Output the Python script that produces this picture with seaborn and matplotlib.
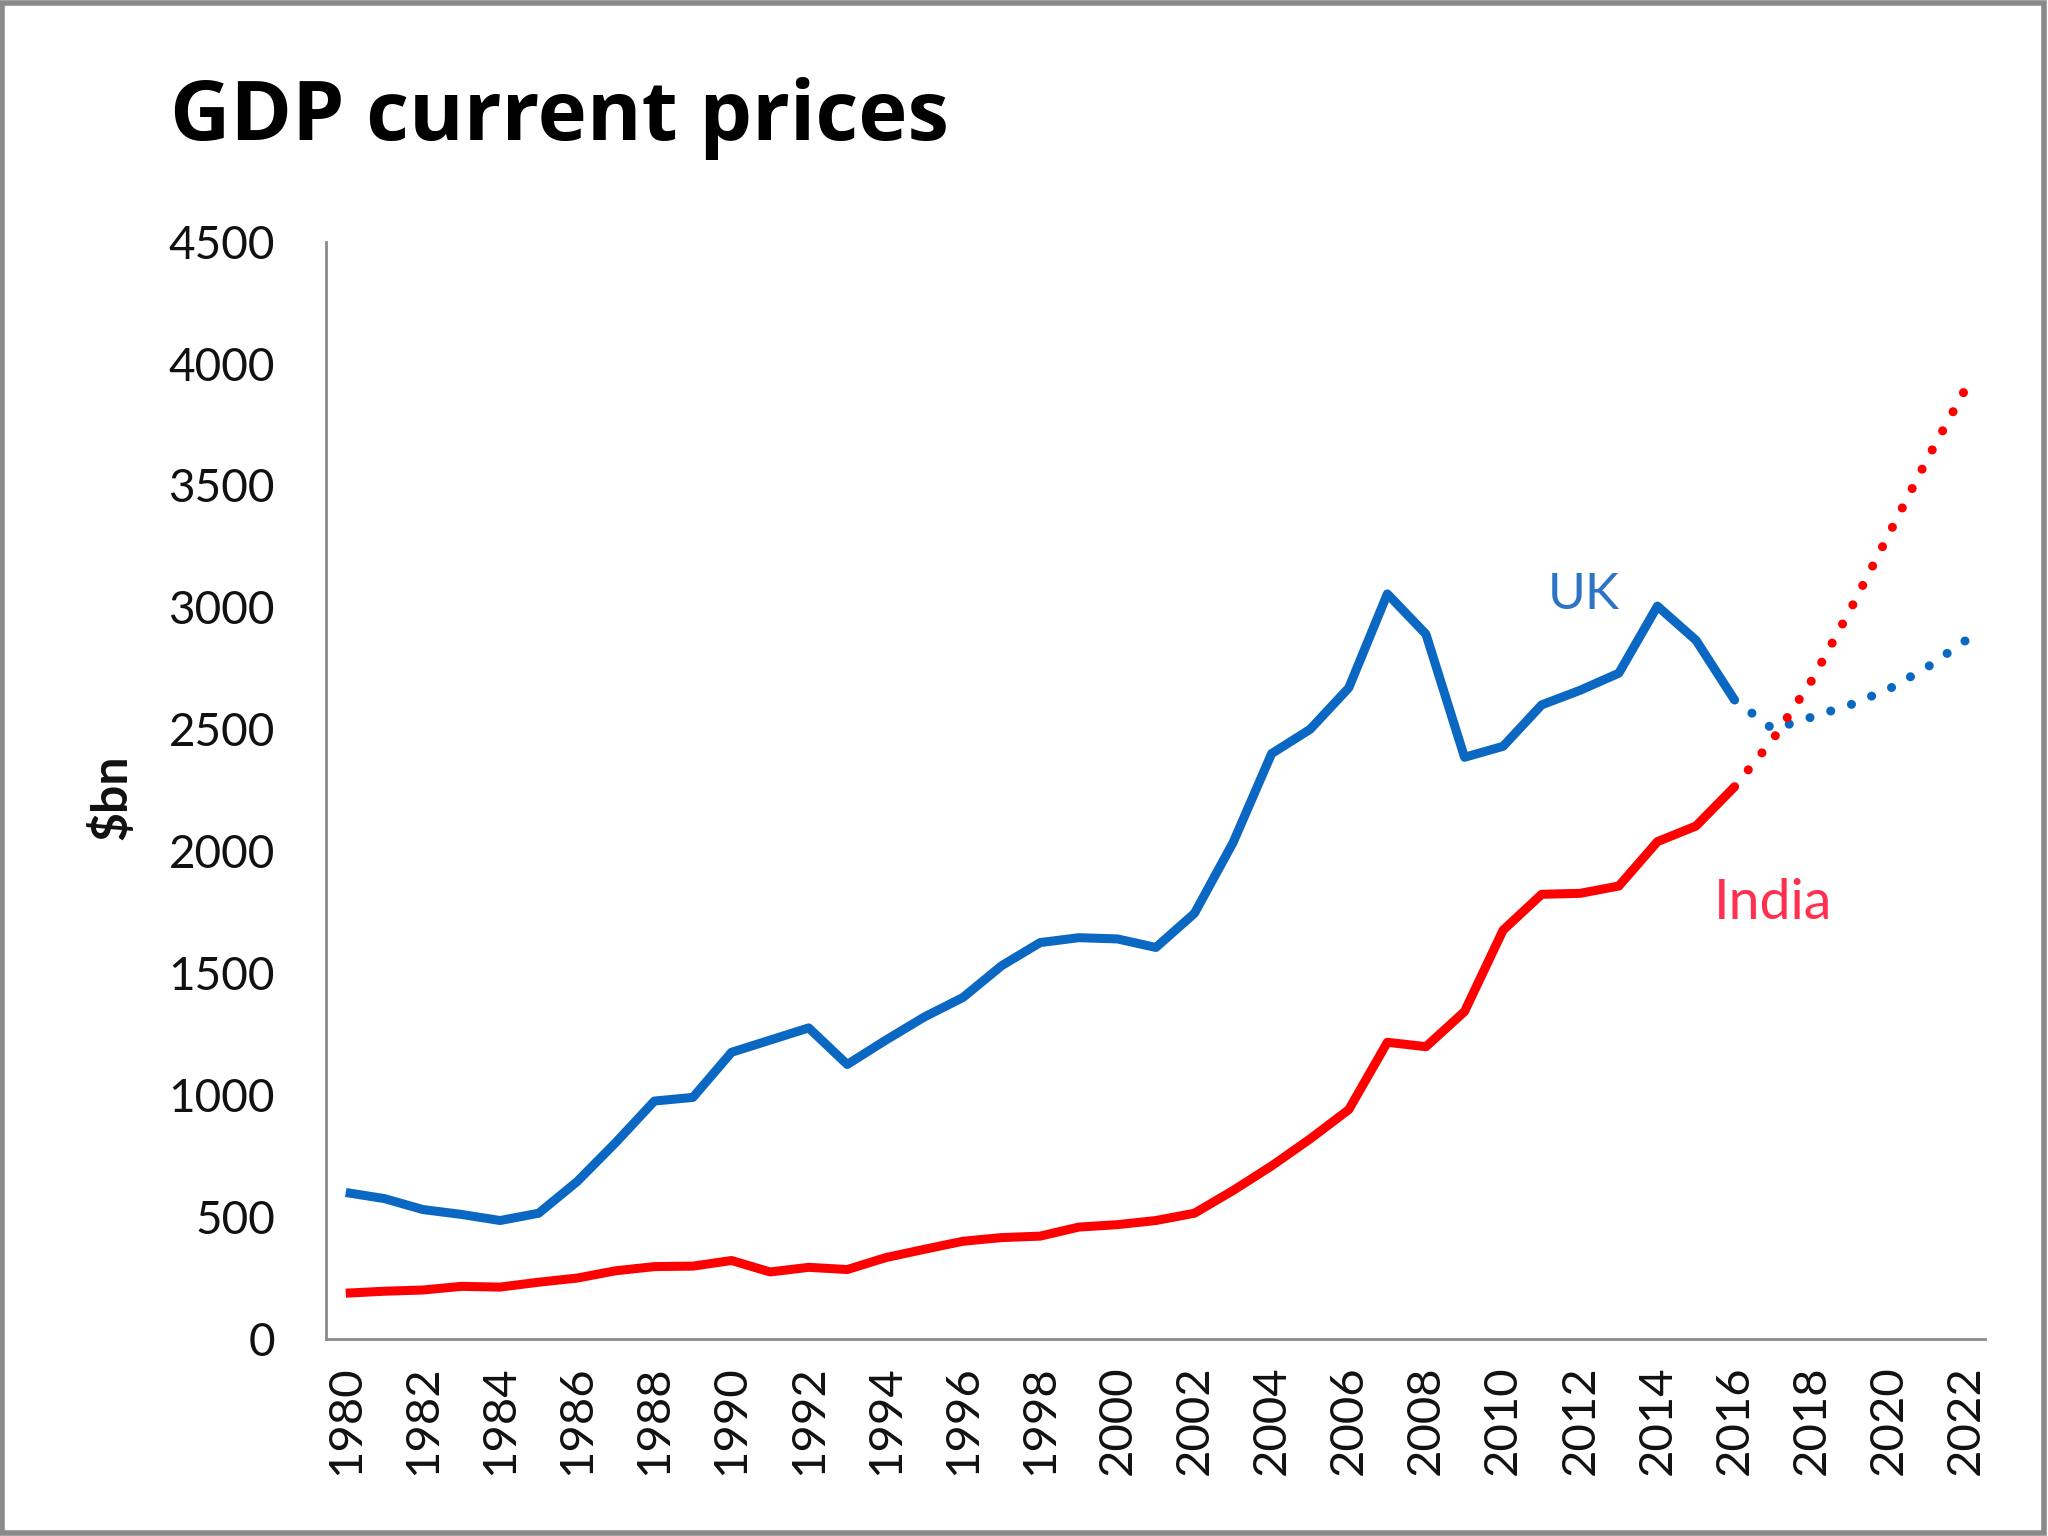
import numpy as np
import pandas as pd
import matplotlib
matplotlib.use("Agg")
import matplotlib.pyplot as plt
import seaborn as sns
from matplotlib.patches import Rectangle

# GDP at current prices, $bn
years = list(range(1980, 2017))
uk_gdp = [600, 575, 530, 510, 485, 515, 645, 805, 975, 990, 1175, 1225, 1275, 1125,
          1225, 1320, 1400, 1530, 1625, 1645, 1640, 1605, 1745, 2035, 2400, 2500,
          2670, 3055, 2890, 2385, 2430, 2600, 2660, 2730, 3005, 2865, 2620]
india_gdp = [187, 195, 200, 215, 212, 232, 249, 279, 296, 298, 321, 274, 293, 284,
             333, 367, 400, 415, 421, 458, 468, 485, 515, 608, 709, 820, 940, 1216,
             1198, 1342, 1676, 1823, 1827, 1857, 2039, 2103, 2264]

# forecast part, joined on from 2016
fc_years = list(range(2016, 2023))
uk_fc = [2620, 2500, 2550, 2600, 2665, 2755, 2865]
india_fc = [2264, 2460, 2700, 2990, 3300, 3610, 3900]

tick_years = list(range(1980, 2023, 2))
y_ticks = list(range(0, 4501, 500))

uk_col = "#0A67C2"
india_col = "#FF0000"

sns.set_style("white")
plt.rcParams['font.family'] = ['Lato', 'DejaVu Sans']

fig = plt.figure(figsize=(20.48, 15.36), dpi=100)
ax = fig.add_axes([0.1594, 0.1284, 0.81, 0.7143])

sns.lineplot(x=years, y=uk_gdp, ax=ax, color=uk_col, lw=6.5, solid_capstyle="butt")
sns.lineplot(x=years, y=india_gdp, ax=ax, color=india_col, lw=6.5, solid_capstyle="butt")
sns.lineplot(x=fc_years, y=uk_fc, ax=ax, color=uk_col, lw=6.5,
             linestyle=(0, (0.01, 2.4)), dash_capstyle="round")
sns.lineplot(x=fc_years, y=india_fc, ax=ax, color=india_col, lw=6.5,
             linestyle=(0, (0.01, 2.4)), dash_capstyle="round")

ax.set_xlim(1979.5, 2022.5)
ax.set_ylim(0, 4500)
ax.set_xticks(tick_years)
ax.set_xticklabels([str(y) for y in tick_years], rotation=90)
ax.set_yticks(y_ticks)
ax.tick_params(axis="y", length=0, pad=37, labelsize=33, colors="#111111")
ax.tick_params(axis="x", length=0, pad=19, labelsize=34, colors="#111111")

sns.despine(ax=ax)
for s in ["left", "bottom"]:
    ax.spines[s].set_color("#8c8c8c")
    ax.spines[s].set_linewidth(2)

ax.set_ylabel("$bn", fontsize=36, fontweight="bold", color="#111111")
ax.yaxis.set_label_coords(-0.116, 0.494)

ax.text(2012.1, 3050, "UK", color="#2E74C4", fontsize=37, ha="center", va="center")
ax.text(2017.0, 1785, "India", color="#FF2F4F", fontsize=40, ha="center", va="center")

fig.text(0.083, 0.909, "GDP current prices", fontsize=60, fontweight="bold",
         family=["Open Sans", "DejaVu Sans"], ha="left", va="baseline", color="black")

fig.patches.append(Rectangle((0.001, 0.002), 0.997, 0.996, transform=fig.transFigure,
                             fill=False, edgecolor="#8a8a8a", lw=4))

fig.savefig("out.png", dpi=100)
